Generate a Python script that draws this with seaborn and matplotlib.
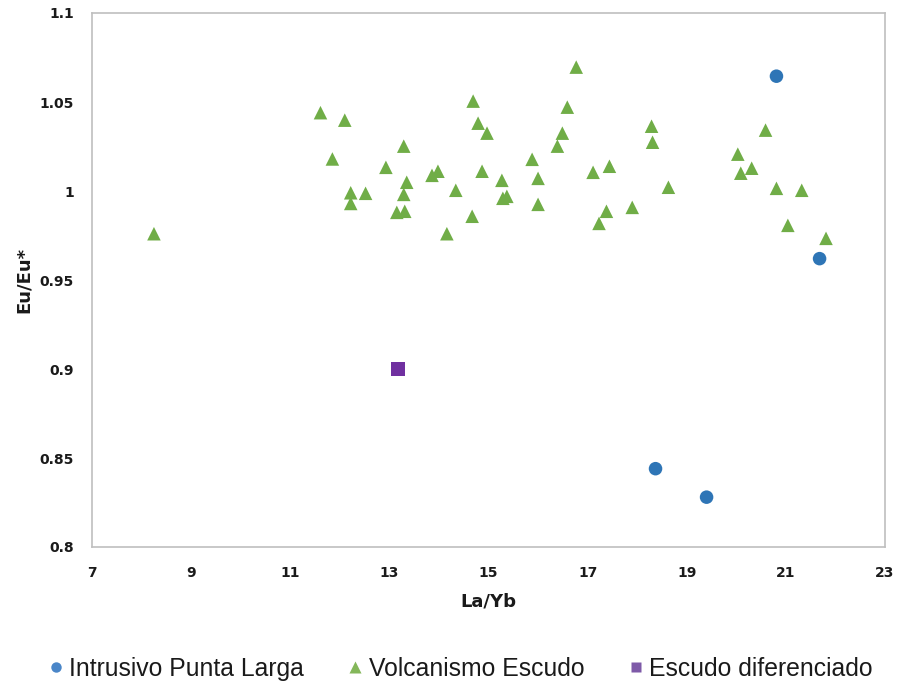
import numpy as np
import pandas as pd
import matplotlib
matplotlib.use("Agg")
import matplotlib.pyplot as plt
import seaborn as sns
from matplotlib.lines import Line2D

# ---- data ----
intrusivo_x = [20.81, 21.68, 18.37, 19.40]
intrusivo_y = [1.0645, 0.962, 0.844, 0.828]

volcanismo_x = [8.25, 11.61, 12.10, 11.85, 12.22, 12.22, 12.52, 12.93, 13.29, 13.29,
                13.35, 13.15, 13.31, 13.86, 13.98, 14.34, 14.16, 14.69, 14.79, 14.97,
                14.87, 14.67, 15.27, 15.29, 15.37, 15.88, 16.00, 16.00, 16.39, 16.49,
                16.59, 16.77, 17.11, 17.44, 17.38, 17.23, 17.90, 18.29, 18.31, 18.63,
                20.03, 20.31, 20.09, 20.59, 20.81, 21.32, 21.04, 21.81]
volcanismo_y = [0.976, 1.044, 1.0398, 1.018, 0.999, 0.993, 0.9987, 1.0133, 1.0252, 0.9981,
                1.0049, 0.988, 0.9886, 1.0088, 1.0111, 1.0004, 0.976, 1.0505, 1.0381, 1.0325,
                1.0111, 0.9858, 1.006, 0.9959, 0.997, 1.0178, 1.0071, 0.9925, 1.0252, 1.0325,
                1.0471, 1.0696, 1.0105, 1.0139, 0.9886, 0.9818, 0.9908, 1.0364, 1.0274, 1.0021,
                1.0207, 1.0128, 1.010, 1.0342, 1.0015, 1.0004, 0.9807, 0.9734]

escudo_x = [13.17]
escudo_y = [0.900]

series = ["Intrusivo Punta Larga", "Volcanismo Escudo", "Escudo diferenciado"]
colors = ["#2E75B6", "#70AD47", "#7030A0"]
legend_colors = ["#4A86C8", "#84B75A", "#7E5AA8"]
markers = ["o", "^", "s"]

x_ticks = [7, 9, 11, 13, 15, 17, 19, 21, 23]
y_ticks = [0.8, 0.85, 0.9, 0.95, 1.0, 1.05, 1.1]
y_tick_labels = ["0.8", "0.85", "0.9", "0.95", "1", "1.05", "1.1"]

df = pd.concat([
    pd.DataFrame({"La/Yb": intrusivo_x, "Eu/Eu*": intrusivo_y, "serie": series[0]}),
    pd.DataFrame({"La/Yb": volcanismo_x, "Eu/Eu*": volcanismo_y, "serie": series[1]}),
    pd.DataFrame({"La/Yb": escudo_x, "Eu/Eu*": escudo_y, "serie": series[2]}),
], ignore_index=True)

sns.set_style("white")
plt.rcParams['font.family'] = ['DejaVu Sans']

fig = plt.figure(figsize=(8.97, 6.87), dpi=100)
ax = fig.add_axes([92/897, 1-547/687, (885-92)/897, (547-13)/687])

sns.scatterplot(data=df, x="La/Yb", y="Eu/Eu*", hue="serie", style="serie",
                palette=dict(zip(series, colors)), markers=dict(zip(series, markers)),
                hue_order=series, style_order=series,
                s=95, edgecolor="none", linewidth=0, ax=ax, legend=False, zorder=3)

ax.set_xlim(7, 23)
ax.set_ylim(0.8, 1.1)
ax.set_xticks(x_ticks)
ax.set_yticks(y_ticks)
ax.set_yticklabels(y_tick_labels)
ax.tick_params(axis="both", length=0, labelsize=10, labelcolor="#1a1a1a")
ax.tick_params(axis="y", pad=13)
ax.tick_params(axis="x", pad=14)
for lbl in ax.get_xticklabels() + ax.get_yticklabels():
    lbl.set_fontweight("bold")
for sp in ax.spines.values():
    sp.set_color("#BFBFBF")
    sp.set_linewidth(1.2)
ax.grid(False)

ax.set_xlabel("La/Yb", fontsize=13, fontweight="bold", labelpad=9, color="#1a1a1a")
ax.set_ylabel("Eu/Eu*", fontsize=13, fontweight="bold", labelpad=5, color="#1a1a1a")

handles = [Line2D([0], [0], marker=m, color="none", markerfacecolor=c,
                  markeredgecolor="none", markersize=ms, label=s)
           for s, c, m, ms in zip(series, legend_colors, markers, [7.5, 8.5, 7.5])]
leg = fig.legend(handles=handles, loc="center left", bbox_to_anchor=(37/897, 1-669/687), ncol=3,
                 frameon=False, borderpad=0, handletextpad=0.3, columnspacing=1.82,
                 handlelength=0.5,
                 prop={"family": ["Liberation Sans", "DejaVu Sans"], "size": 17.8})
for t in leg.get_texts():
    t.set_color("#1a1a1a")

fig.savefig("out.png", dpi=100)
